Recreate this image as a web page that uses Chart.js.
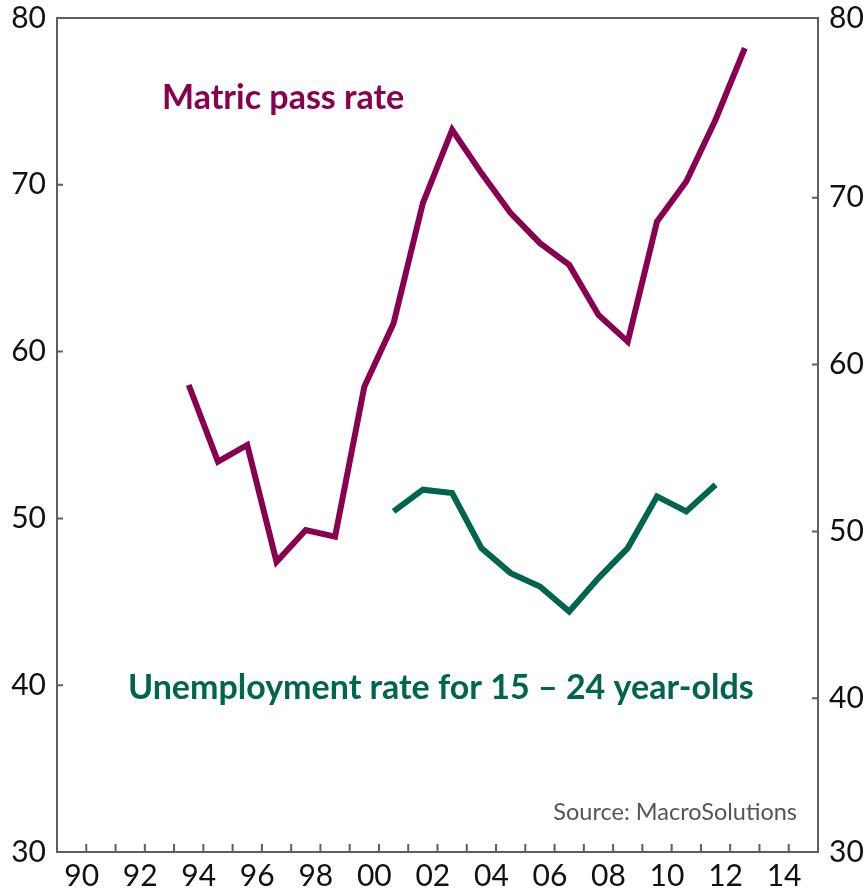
<!DOCTYPE html>
<html>
<head>
<meta charset="utf-8">
<script src="https://cdn.jsdelivr.net/npm/chart.js@4/dist/chart.umd.min.js"></script>
<style>
  html, body { margin: 0; padding: 0; background: #fff; }
  #wrap { width: 865px; height: 895px; }
</style>
</head>
<body>
<div id="wrap"><canvas id="chart"></canvas></div>
<script>
// years on the x axis, one category per year
const years = [1990, 1991, 1992, 1993, 1994, 1995, 1996, 1997, 1998, 1999, 2000, 2001, 2002,
               2003, 2004, 2005, 2006, 2007, 2008, 2009, 2010, 2011, 2012, 2013, 2014, 2015];

// matric pass rate, %, 1994-2013
const matricPass = [null, null, null, null,
                    58.0, 53.4, 54.4, 47.4, 49.3, 48.9, 57.9, 61.7, 68.9, 73.3,
                    70.7, 68.3, 66.5, 65.2, 62.2, 60.6, 67.8, 70.2, 73.9, 78.2, null, null];

// unemployment rate for 15-24 year-olds, %, 2001-2012
const youthUnemp = [null, null, null, null, null, null, null, null, null, null, null,
                    51.2, 52.5, 52.3, 49.0, 47.5, 46.7, 45.2, 47.2, 49.0, 52.1, 51.2, 52.8, null, null, null];

const leftTicks = [30, 40, 50, 60, 70, 80];
const rightTicks = [30, 40, 50, 60, 70, 80];

const MAROON = '#8a0050';
const GREEN = '#00654f';
const AXIS = '#5e5e5e';
const tickFont = { family: 'Lato', size: 30 };

const framePlugin = {
    id: 'frame',
    afterDraw(chart) {
        const ctx = chart.ctx;
        const a = chart.chartArea;
        const x = chart.scales.x, y = chart.scales.y, y1 = chart.scales.y1;
        ctx.save();
        ctx.strokeStyle = AXIS;
        ctx.lineWidth = 2;
        ctx.strokeRect(a.left, a.top, a.right - a.left, a.bottom - a.top);

        // inward tick marks
        ctx.beginPath();
        leftTicks.slice(1, -1).forEach(v => {
            const py = y.getPixelForValue(v);
            ctx.moveTo(a.left, py); ctx.lineTo(a.left + 6, py);
        });
        rightTicks.slice(1, -1).forEach(v => {
            const py = y1.getPixelForValue(v);
            ctx.moveTo(a.right, py); ctx.lineTo(a.right - 6, py);
        });
        for (let i = 1; i < years.length; i++) {
            const px = (x.getPixelForValue(i - 1) + x.getPixelForValue(i)) / 2;
            ctx.moveTo(px, a.bottom); ctx.lineTo(px, a.bottom - 8);
        }
        ctx.stroke();

        // series labels and source
        ctx.textBaseline = 'middle';
        ctx.textAlign = 'left';
        ctx.font = 'bold 34px Lato';
        ctx.fillStyle = MAROON;
        ctx.fillText('Matric pass rate', 162, 98);
        ctx.fillStyle = GREEN;
        ctx.fillText('Unemployment rate for 15 – 24 year-olds', 128, 688);
        ctx.font = '23.5px Lato';
        ctx.fillStyle = '#555555';
        ctx.textAlign = 'right';
        ctx.fillText('Source: MacroSolutions', 797, 812);
        ctx.restore();
    }
};

// let the layout padding decide the frame edges instead of the label heights
const noEdgePad = s => { s.paddingTop = 0; s.paddingBottom = 0; };

new Chart(document.getElementById('chart'), {
    type: 'line',
    data: {
        labels: years,
        datasets: [
            {
                label: 'Matric pass rate',
                data: matricPass,
                yAxisID: 'y',
                borderColor: MAROON,
                borderWidth: 6,
                pointRadius: 0,
                tension: 0,
                spanGaps: false
            },
            {
                label: 'Unemployment rate for 15 – 24 year-olds',
                data: youthUnemp,
                yAxisID: 'y1',
                borderColor: GREEN,
                borderWidth: 6,
                pointRadius: 0,
                tension: 0,
                spanGaps: false
            }
        ]
    },
    options: {
        responsive: true,
        maintainAspectRatio: false,
        animation: false,
        layout: { padding: { top: 18, left: 0, right: 0, bottom: 0 } },
        plugins: { legend: { display: false }, tooltip: { enabled: false } },
        scales: {
            x: {
                type: 'category',
                offset: true,
                grid: { display: false, drawTicks: false },
                border: { display: false },
                ticks: {
                    autoSkip: false, maxRotation: 0, minRotation: 0,
                    padding: 6, labelOffset: 10,
                    color: '#111', font: tickFont,
                    callback: (v, i) => years[i] % 2 === 0 ? String(years[i]).slice(2) : ''
                },
                afterFit: s => { s.height = 43; }
            },
            y: {
                position: 'left',
                min: 30, max: 80,
                grid: { display: false, drawTicks: false },
                border: { display: false },
                afterBuildTicks: s => { s.ticks = leftTicks.map(v => ({ value: v })); },
                ticks: { padding: 11, color: '#111', font: tickFont },
                afterFit: s => { s.width = 57; noEdgePad(s); }
            },
            y1: {
                position: 'right',
                min: 30.78, max: 80.78,
                grid: { display: false, drawTicks: false },
                border: { display: false },
                // end labels sit on the frame corners, inner ones on their values
                afterBuildTicks: s => {
                    const last = rightTicks.length - 1;
                    s.ticks = rightTicks.map((v, i) => ({ value: i === 0 ? s.min : i === last ? s.max : v }));
                },
                ticks: {
                    padding: 11, color: '#111', font: tickFont,
                    callback: (v, i) => String(rightTicks[i])
                },
                afterFit: s => { s.width = 47; noEdgePad(s); }
            }
        }
    },
    plugins: [framePlugin]
});
</script>
</body>
</html>
